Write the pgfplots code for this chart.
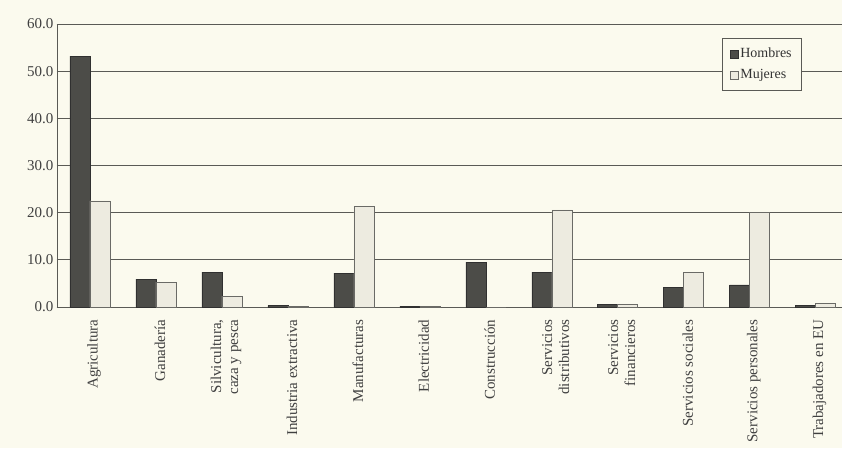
\documentclass[border=0pt]{standalone}
\usepackage{fontspec}
\setmainfont{Liberation Serif}
\usepackage{pgfplots}
\pgfplotsset{compat=1.18}
\definecolor{bg}{HTML}{FBFAEE}
\definecolor{dark}{HTML}{4C4C48}
\definecolor{darkline}{HTML}{303030}
\definecolor{light}{HTML}{EDEBE0}
\definecolor{lightline}{HTML}{6A6A66}
\definecolor{gridc}{HTML}{5A5A55}
\begin{document}
\begin{tikzpicture}
\fill[bg] (-57pt,-141pt) rectangle (785pt,307pt);
\begin{axis}[
  at={(0,0)}, anchor=south west,
  scale only axis, width=785pt, height=283pt,
  xmin=-0.5, xmax=11.4, ymin=0, ymax=60,
  ybar=0pt, bar width=20pt,
  axis x line*=bottom, axis y line*=left,
  axis line style={gridc, line width=0.8pt},
  ytick={0,10,...,60},
  yticklabel={\pgfmathprintnumber[fixed,fixed zerofill,precision=1]{\tick}},
  /pgf/number format/assume math mode=true,
  yticklabel style={font=\fontsize{15}{15}\selectfont, text=black!75},
  ymajorgrids, grid style={gridc, line width=0.8pt},
  major tick length=9pt,
  ytick style={gridc, line width=0.8pt},
  xtick={0,...,11},
  xtick style={draw=none},
  xticklabels={Agricultura,Ganadería,{Silvicultura,\\caza y pesca},Industria extractiva,Manufacturas,Electricidad,Construcción,{Servicios\\distributivos},{Servicios\\financieros},Servicios sociales,Servicios personales,Trabajadores en EU},
  xticklabel style={rotate=90, anchor=east, align=right, font=\fontsize{15}{17}\selectfont, text=black!75, yshift=-4pt},
  legend style={at={(0.949,0.951)}, anchor=north east, fill=bg, draw=gridc, line width=0.6pt, font=\fontsize{14}{15}\selectfont, text=black!80, row sep=6pt, inner xsep=8pt, inner ysep=8pt},
  legend cell align=left,
  legend image code/.code={\draw[#1, line width=0.4pt] (0pt,-4pt) rectangle (8pt,4pt);},
  axis on top=false,
]
\addplot[fill=dark, draw=darkline, line width=0.5pt] coordinates {
(0,53.2) (1,5.9) (2,7.4) (3,0.3) (4,7.2) (5,0.2) (6,9.5) (7,7.4) (8,0.5) (9,4.2) (10,4.7) (11,0.3)};
\addplot[fill=light, draw=lightline, line width=0.5pt] coordinates {
(0,22.5) (1,5.3) (2,2.3) (3,0.2) (4,21.4) (5,0.1) (6,0.0) (7,20.6) (8,0.6) (9,7.4) (10,20.0) (11,0.7)};
\legend{Hombres,Mujeres}
\end{axis}
\pgfresetboundingbox
\path[use as bounding box] (-57pt,-141pt) rectangle (785pt,307pt);
\end{tikzpicture}
\end{document}
